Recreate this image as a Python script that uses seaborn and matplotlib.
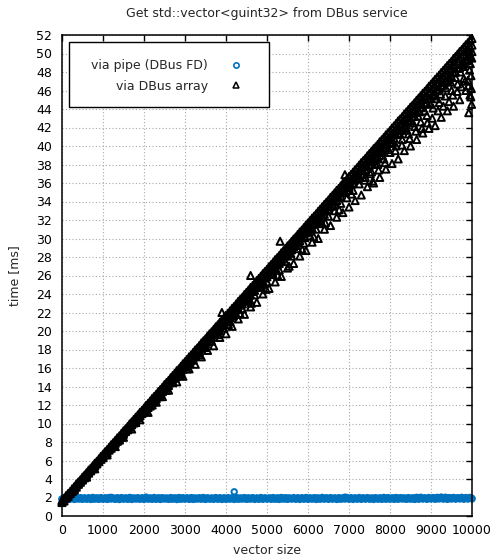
import numpy as np
import pandas as pd
import matplotlib
matplotlib.use("Agg")
import matplotlib.pyplot as plt
from matplotlib.patches import Rectangle
from matplotlib.lines import Line2D
import seaborn as sns

# ---------------- data ----------------
vector_sizes = [
    0, 50, 100, 150, 200, 250, 300, 350, 400, 450, 500, 550, 600, 650, 700, 750, 800, 850, 900, 950,
    1000, 1050, 1100, 1150, 1200, 1250, 1300, 1350, 1400, 1450, 1500, 1550, 1600, 1650, 1700, 1750, 1800, 1850, 1900, 1950,
    2000, 2050, 2100, 2150, 2200, 2250, 2300, 2350, 2400, 2450, 2500, 2550, 2600, 2650, 2700, 2750, 2800, 2850, 2900, 2950,
    3000, 3050, 3100, 3150, 3200, 3250, 3300, 3350, 3400, 3450, 3500, 3550, 3600, 3650, 3700, 3750, 3800, 3850, 3900, 3950,
    4000, 4050, 4100, 4150, 4200, 4250, 4300, 4350, 4400, 4450, 4500, 4550, 4600, 4650, 4700, 4750, 4800, 4850, 4900, 4950,
    5000, 5050, 5100, 5150, 5200, 5250, 5300, 5350, 5400, 5450, 5500, 5550, 5600, 5650, 5700, 5750, 5800, 5850, 5900, 5950,
    6000, 6050, 6100, 6150, 6200, 6250, 6300, 6350, 6400, 6450, 6500, 6550, 6600, 6650, 6700, 6750, 6800, 6850, 6900, 6950,
    7000, 7050, 7100, 7150, 7200, 7250, 7300, 7350, 7400, 7450, 7500, 7550, 7600, 7650, 7700, 7750, 7800, 7850, 7900, 7950,
    8000, 8050, 8100, 8150, 8200, 8250, 8300, 8350, 8400, 8450, 8500, 8550, 8600, 8650, 8700, 8750, 8800, 8850, 8900, 8950,
    9000, 9050, 9100, 9150, 9200, 9250, 9300, 9350, 9400, 9450, 9500, 9550, 9600, 9650, 9700, 9750, 9800, 9850, 9900, 9950,
    10000,
]

# via pipe (DBus FD), two measurement runs at every size
pipe_ms = [
    1.86, 1.90, 1.84, 1.92, 1.88, 1.95, 2.03, 1.87, 1.91, 1.85, 1.89, 1.93, 1.86, 1.90, 1.88, 1.84, 1.92, 1.87, 1.91, 1.89,
    1.85, 1.90, 1.93, 1.87, 2.02, 1.89, 1.84, 1.91, 1.88, 1.92, 1.86, 1.90, 1.85, 1.89, 1.93, 1.87, 1.91, 1.86, 1.88, 1.90,
    1.84, 2.04, 1.89, 1.86, 1.92, 1.88, 1.85, 1.90, 1.93, 1.87, 1.91, 1.86, 1.89, 1.84, 1.92, 1.88, 1.90, 1.85, 1.93, 1.87,
    1.89, 1.91, 1.86, 1.88, 1.93, 1.85, 1.90, 1.87, 1.92, 1.89, 1.84, 1.91, 1.88, 1.86, 1.90, 1.93, 1.87, 1.89, 1.85, 1.92,
    1.88, 1.86, 1.91, 1.89, 1.94, 1.87, 1.90, 1.85, 1.92, 1.88, 1.91, 1.86, 1.89, 1.93, 1.87, 1.90, 1.84, 1.92, 1.88, 1.91,
    1.86, 1.90, 1.93, 1.87, 1.89, 1.85, 1.92, 1.88, 1.91, 1.86, 1.94, 1.89, 1.87, 1.90, 1.85, 1.93, 1.88, 1.91, 1.86, 1.89,
    1.92, 1.87, 1.90, 1.88, 1.94, 1.86, 1.91, 1.89, 1.85, 1.93, 1.88, 1.90, 1.87, 1.92, 1.89, 1.86, 1.91, 1.88, 2.04, 1.90,
    1.87, 1.91, 1.89, 1.93, 1.86, 1.90, 1.88, 1.92, 1.85, 1.91, 1.89, 1.87, 1.93, 1.90, 1.88, 1.86, 1.92, 1.89, 1.91, 1.87,
    1.90, 1.88, 1.93, 1.86, 1.91, 1.89, 1.95, 1.87, 1.92, 1.88, 1.90, 1.86, 1.94, 1.89, 1.91, 2.03, 1.88, 1.92, 1.90, 1.93,
    1.89, 1.94, 1.91, 1.87, 1.95, 2.05, 1.92, 1.90, 1.96, 1.88, 1.93, 1.91, 1.89, 1.94, 1.90, 1.92, 1.88, 1.95, 1.91, 1.93,
    1.92,
]
pipe_ms_run2 = [
    1.80, 1.96, 1.78, 1.98, 1.82, 2.00, 1.79, 1.97, 1.83, 1.99, 1.80, 1.96, 1.81, 1.98, 1.79, 2.01, 1.82, 1.97, 1.80, 1.99,
    1.81, 1.97, 1.79, 2.00, 1.83, 1.96, 1.80, 1.98, 1.78, 1.99, 1.82, 1.97, 1.80, 2.01, 1.79, 1.96, 1.83, 1.98, 1.81, 1.97,
    1.79, 1.99, 1.82, 1.96, 1.80, 2.00, 1.81, 1.97, 1.79, 1.98, 1.83, 1.96, 1.80, 1.99, 1.82, 1.97, 1.78, 2.00, 1.81, 1.98,
    1.82, 1.97, 1.80, 1.99, 1.79, 1.96, 1.83, 1.98, 1.81, 2.00, 1.79, 1.97, 1.82, 1.96, 1.80, 1.99, 1.81, 1.98, 1.79, 1.97,
    1.80, 1.98, 1.82, 1.97, 1.79, 2.01, 1.81, 1.96, 1.83, 1.99, 1.80, 1.97, 1.82, 1.98, 1.79, 1.96, 1.81, 2.00, 1.80, 1.97,
    1.83, 1.96, 1.80, 1.99, 1.81, 1.97, 1.79, 2.00, 1.82, 1.98, 1.80, 1.96, 1.83, 1.99, 1.81, 1.97, 1.79, 1.98, 1.82, 2.00,
    1.80, 1.97, 1.82, 1.98, 1.79, 1.96, 1.81, 2.01, 1.83, 1.97, 1.80, 1.99, 1.82, 1.96, 1.79, 1.98, 1.81, 1.97, 1.83, 2.00,
    1.81, 1.98, 1.79, 1.96, 1.82, 2.00, 1.80, 1.97, 1.83, 1.99, 1.81, 1.96, 1.79, 1.98, 1.82, 1.97, 1.80, 2.01, 1.81, 1.99,
    1.82, 1.97, 1.80, 2.00, 1.81, 1.98, 1.83, 1.96, 1.80, 1.99, 1.82, 1.97, 1.79, 2.02, 1.81, 1.98, 1.83, 1.97, 1.80, 2.00,
    1.83, 1.99, 1.81, 2.02, 1.84, 1.98, 1.82, 2.03, 1.80, 1.99, 1.83, 2.01, 1.82, 1.98, 1.84, 2.02, 1.81, 1.99, 1.83, 2.01,
    1.84,
]
pipe_outlier_sizes = [4200]
pipe_outlier_ms = [2.62]

# via DBus array: fast run (upper edge of the band) and two slightly slower runs
array_ms = [
    1.70, 1.93, 2.21, 2.44, 2.66, 2.95, 3.18, 3.47, 3.69, 3.92, 4.21, 4.43, 4.68, 4.96, 5.17, 5.44, 5.71, 5.92, 6.18, 6.46,
    6.68, 6.95, 7.17, 7.44, 7.71, 7.93, 8.18, 8.45, 8.66, 8.94, 9.21, 9.43, 9.67, 9.96, 10.18, 10.44, 10.69, 10.93, 11.21, 11.42,
    11.67, 11.96, 12.18, 12.43, 12.72, 12.94, 13.17, 13.46, 13.68, 13.93, 14.21, 14.44, 14.66, 14.95, 15.19, 15.43, 15.72, 15.91, 16.19, 16.46,
    16.68, 16.94, 17.21, 17.42, 17.69, 17.96, 18.17, 18.43, 18.71, 18.94, 19.16, 19.45, 19.70, 19.92, 20.18, 20.46, 20.67, 20.95, 21.19, 21.43,
    21.71, 21.93, 22.18, 22.46, 22.67, 22.94, 23.21, 23.44, 23.66, 23.95, 24.18, 24.43, 24.71, 24.92, 25.17, 25.46, 25.69, 25.93, 26.21, 26.44,
    26.67, 26.96, 27.18, 27.43, 27.72, 27.93, 28.17, 28.46, 28.68, 28.94, 29.21, 29.42, 29.69, 29.95, 30.16, 30.44, 30.71, 30.92, 31.18, 31.46,
    31.68, 31.94, 32.21, 32.43, 32.67, 32.95, 33.19, 33.44, 33.70, 33.93, 34.17, 34.46, 34.68, 34.94, 35.21, 35.42, 35.69, 35.96, 36.17, 36.44,
    36.71, 36.93, 37.18, 37.45, 37.67, 37.94, 38.21, 38.43, 38.66, 38.95, 39.19, 39.44, 39.71, 39.92, 40.17, 40.46, 40.68, 40.93, 41.21, 41.43,
    41.67, 41.96, 42.18, 42.44, 42.72, 42.93, 43.17, 43.46, 43.69, 43.94, 44.21, 44.42, 44.68, 44.95, 45.19, 45.43, 45.71, 45.92, 46.18, 46.46,
    46.68, 46.94, 47.21, 47.43, 47.67, 47.95, 48.19, 48.44, 48.70, 48.93, 49.17, 49.46, 49.68, 49.94, 50.21, 50.42, 50.69, 50.95, 51.18, 51.44,
    51.62,
]
array_ms_run2 = [
    1.45, 1.62, 1.93, 2.12, 2.41, 2.63, 2.90, 3.11, 3.42, 3.64, 3.88, 4.12, 4.41, 4.63, 4.88, 5.10, 5.41, 5.62, 5.87, 6.12,
    6.33, 6.62, 6.81, 7.12, 7.32, 7.58, 7.86, 8.07, 8.34, 8.58, 8.83, 9.12, 9.31, 9.58, 9.86, 10.05, 10.33, 10.61, 10.82, 11.07,
    11.25, 11.42, 11.73, 11.88, 12.24, 12.37, 12.68, 12.95, 13.12, 13.44, 13.62, 13.93, 14.11, 14.46, 14.61, 14.95, 15.12, 15.41, 15.68, 15.87,
    16.12, 16.30, 16.63, 16.79, 17.14, 17.31, 17.62, 17.79, 18.14, 18.30, 18.61, 18.82, 19.13, 19.30, 19.59, 19.86, 20.02, 20.35, 20.56, 20.80,
    20.98, 21.27, 21.43, 21.80, 21.94, 22.28, 22.41, 22.79, 22.92, 23.27, 23.42, 23.80, 23.91, 24.27, 24.40, 24.78, 24.91, 25.26, 25.42, 25.73,
    25.86, 26.14, 26.30, 26.62, 26.81, 27.13, 27.29, 27.62, 27.78, 28.12, 28.26, 28.61, 28.77, 29.12, 29.24, 29.61, 29.76, 30.10, 30.22, 30.61,
    30.68, 31.01, 31.14, 31.52, 31.63, 32.00, 32.12, 32.51, 32.61, 32.99, 33.10, 33.50, 33.59, 33.98, 34.09, 34.48, 34.56, 34.97, 35.07, 35.46,
    35.52, 35.83, 35.98, 36.33, 36.47, 36.82, 36.95, 37.32, 37.44, 37.81, 37.92, 38.31, 38.41, 38.79, 38.90, 39.30, 39.38, 39.78, 39.87, 40.28,
    40.36, 40.72, 40.83, 41.22, 41.31, 41.69, 41.80, 42.20, 42.27, 42.67, 42.76, 43.17, 43.24, 43.64, 43.72, 44.13, 44.20, 44.61, 44.69, 45.10,
    45.14, 45.50, 45.62, 45.96, 46.09, 46.47, 46.56, 46.93, 47.04, 47.42, 47.51, 47.90, 47.98, 48.38, 48.46, 48.86, 48.93, 49.33, 49.41, 49.82,
    50.20,
]
array_ms_run3 = [
    1.58, 1.80, 2.05, 2.30, 2.55, 2.80, 3.04, 3.30, 3.54, 3.80, 4.04, 4.28, 4.55, 4.79, 5.03, 5.28, 5.55, 5.78, 6.03, 6.30,
    6.50, 6.77, 7.00, 7.26, 7.52, 7.74, 8.00, 8.26, 8.48, 8.76, 9.01, 9.25, 9.47, 9.77, 9.99, 10.24, 10.50, 10.74, 11.00, 11.22,
    11.40, 11.68, 11.92, 12.14, 12.46, 12.65, 12.91, 13.18, 13.40, 13.67, 13.92, 14.18, 14.38, 14.69, 14.90, 15.18, 15.43, 15.65, 15.91, 16.18,
    16.38, 16.60, 16.90, 17.10, 17.38, 17.62, 17.86, 18.10, 18.40, 18.60, 18.86, 19.12, 19.40, 19.59, 19.87, 20.13, 20.35, 20.64, 20.86, 21.10,
    21.34, 21.56, 21.79, 22.10, 22.28, 22.58, 22.82, 23.07, 23.28, 23.58, 23.78, 24.06, 24.32, 24.55, 24.78, 25.09, 25.30, 25.57, 25.82, 26.07,
    26.22, 26.52, 26.73, 26.99, 27.26, 27.50, 27.72, 28.02, 28.22, 28.51, 28.74, 28.99, 29.22, 29.52, 29.70, 30.01, 30.24, 30.50, 30.71, 31.03,
    31.17, 31.46, 31.70, 31.96, 32.15, 32.47, 32.68, 32.96, 33.19, 33.45, 33.65, 33.97, 34.17, 34.45, 34.70, 34.94, 35.17, 35.48, 35.66, 35.96,
    36.11, 36.35, 36.57, 36.86, 37.06, 37.36, 37.60, 37.85, 38.05, 38.37, 38.58, 38.86, 39.10, 39.34, 39.56, 39.87, 40.07, 40.35, 40.60, 40.84,
    41.00, 41.30, 41.49, 41.78, 42.03, 42.27, 42.48, 42.80, 43.00, 43.28, 43.52, 43.76, 43.99, 44.29, 44.50, 44.77, 45.02, 45.26, 45.49, 45.80,
    45.90, 46.18, 46.42, 46.67, 46.88, 47.19, 47.40, 47.68, 47.91, 48.16, 48.38, 48.70, 48.90, 49.18, 49.42, 49.66, 49.90, 50.19, 50.40, 50.68,
    50.90,
]

# scattered (slower) DBus-array measurements
array_slow_sizes = [
    300, 600, 800, 1100, 1300, 1500, 1700, 1900, 2100, 2300, 2450, 2600, 2800, 2950, 3100, 3250, 3400, 3550, 3700, 3850,
    4000, 4150, 4300, 4450, 4600, 4750, 4900, 5050, 5200, 5350, 5500, 5650, 5800, 5950, 6100, 6250, 6400, 6550, 6700, 6850,
    7000, 7150, 7300, 7450, 7600, 7750, 7900, 8050, 8200, 8350, 8500, 8650, 8800, 8950, 9100, 9250, 9400, 9550, 9700, 9850, 9950,
    1000, 1400, 1800, 2200, 2550, 2700, 2900, 3050, 3200, 3350, 3500, 3650, 3800, 3950, 4100, 4250, 4400, 4550, 4700, 4850,
    5000, 5150, 5300, 5450, 5600, 5750, 5900, 6050, 6200, 6350, 6500, 6650, 6800, 6950, 7100, 7250, 7400, 7550, 7700, 7850,
    8000, 8150, 8300, 8450, 8600, 8750, 8900, 9050, 9200, 9350, 9500, 9650, 9800, 9900,
    2020, 2380, 2760, 3120, 3480, 3840, 4180, 4520, 4880, 5220, 5580, 5920, 6280, 6620, 6980, 7320, 7680, 8020, 8380, 8720,
    9080, 9420, 9760, 9960,
    3900, 4600, 5320, 6900,
    9930, 9960, 9975, 9985, 9990, 9920,
    7520, 7580, 7640, 7720, 7810, 7880, 7960, 8070, 8130, 8240, 8290, 8410, 8480, 8560, 8630, 8690, 8780, 8840, 8910, 8980,
    9030, 9120, 9170, 9230, 9300, 9360, 9440, 9480, 9530, 9600, 9640, 9720, 9740, 9790, 9830, 9880, 9910, 9940, 9970, 9995,
    4060, 4340, 4620, 4980, 5260, 5540, 5860, 6140, 6420, 6760, 7060, 7380,
]
array_slow_ms = [
    2.8, 4.2, 5.1, 6.6, 7.5, 8.5, 9.4, 10.4, 11.2, 12.3, 12.9, 13.6, 14.5, 15.1, 15.9, 16.4, 17.2, 17.9, 18.4, 19.3,
    19.7, 20.5, 21.3, 21.8, 22.6, 23.1, 24.0, 24.6, 25.3, 25.9, 26.8, 27.3, 28.1, 28.7, 29.6, 30.0, 31.0, 31.4, 32.3, 32.8,
    33.4, 34.1, 34.7, 35.6, 36.0, 36.6, 37.5, 38.1, 38.6, 39.5, 40.0, 40.7, 41.4, 41.9, 42.2, 43.1, 43.8, 44.3, 45.0, 46.0, 45.5,
    6.3, 8.2, 10.1, 12.0, 13.6, 14.4, 15.3, 15.9, 16.9, 17.4, 18.2, 18.9, 19.6, 20.3, 21.0, 21.8, 22.4, 23.3, 23.9, 24.7,
    25.3, 26.1, 26.6, 27.5, 28.1, 28.9, 29.5, 30.3, 31.0, 31.6, 32.4, 33.0, 33.8, 34.4, 35.2, 35.9, 36.6, 37.2, 38.0, 38.6,
    39.3, 40.0, 40.7, 41.3, 42.1, 42.6, 43.3, 44.1, 44.7, 45.4, 46.0, 46.7, 47.3, 47.1,
    11.3, 12.9, 14.9, 16.5, 18.3, 20.0, 21.6, 23.2, 25.1, 26.7, 28.4, 30.1, 31.8, 33.5, 35.2, 36.9, 38.7, 40.3, 42.0, 43.7,
    45.4, 47.1, 48.8, 49.6,
    22.0, 26.0, 29.7, 36.9,
    50.3, 48.9, 47.6, 46.2, 44.5, 43.6,
    37.0, 36.2, 38.1, 37.4, 39.0, 38.2, 39.6, 40.4, 39.5, 41.3, 40.1, 41.7, 40.8, 42.5, 41.6, 43.2, 41.9, 43.8, 42.5, 44.5,
    43.0, 45.1, 43.8, 45.6, 44.3, 46.3, 44.8, 46.9, 45.5, 47.4, 45.9, 48.0, 46.4, 48.6, 47.0, 49.2, 46.5, 48.2, 45.3, 49.5,
    20.7, 21.9, 23.0, 24.5, 26.0, 27.0, 28.8, 30.2, 31.7, 33.1, 34.8, 36.3,
]

title = "Get std::vector<guint32> from DBus service"
xlabel = "vector size"
ylabel = "time [ms]"
label_pipe = "via pipe (DBus FD)"
label_array = "via DBus array"
x_ticks = [0, 1000, 2000, 3000, 4000, 5000, 6000, 7000, 8000, 9000, 10000]
y_ticks = [0, 2, 4, 6, 8, 10, 12, 14, 16, 18, 20, 22, 24, 26, 28, 30, 32, 34, 36, 38, 40,
           42, 44, 46, 48, 50, 52]

# ---------------- frames ----------------
pipe_df = pd.DataFrame({
    "size": vector_sizes + vector_sizes + pipe_outlier_sizes,
    "ms": pipe_ms + pipe_ms_run2 + pipe_outlier_ms,
})
array_df = pd.DataFrame({
    "size": vector_sizes + vector_sizes + vector_sizes + array_slow_sizes,
    "ms": array_ms + array_ms_run2 + array_ms_run3 + array_slow_ms,
})

# ---------------- style ----------------
sns.set_theme(style="white")
plt.rcParams["font.family"] = ["DejaVu Sans"]
plt.rcParams["font.size"] = 9

BLUE = "#0072bd"
FS = 9

fig = plt.figure(figsize=(4.96, 5.58), dpi=100)
ax = fig.add_axes([62 / 496, 1 - 516 / 558, 410 / 496, 481 / 558])

sns.scatterplot(data=pipe_df, x="size", y="ms", ax=ax, marker="o", s=15,
                facecolor="none", edgecolor=BLUE, linewidth=1.4,
                clip_on=False, zorder=3, legend=False)
sns.scatterplot(data=array_df, x="size", y="ms", ax=ax, marker="^", s=26,
                facecolor="none", edgecolor="black", linewidth=1.4,
                clip_on=False, zorder=4, legend=False)

ax.set_xlim(0, 10000)
ax.set_ylim(0, 52)
ax.set_xticks(x_ticks)
ax.set_yticks(y_ticks)
ax.set_xticklabels([str(t) for t in x_ticks])
ax.set_yticklabels([str(t) for t in y_ticks])

ax.grid(True, color="#a8a8a8", linestyle=(0, (1, 2)), linewidth=0.8)
ax.set_axisbelow(True)
ax.tick_params(direction="in", length=4.5, width=1.0, colors="black",
               top=True, right=True, labelsize=FS)
ax.tick_params(axis="x", pad=6)
ax.tick_params(axis="y", pad=7)
for sp in ax.spines.values():
    sp.set_color("black")
    sp.set_linewidth(1.1)
    sp.set_zorder(5)

ax.set_xlabel(xlabel, fontsize=FS, labelpad=5)
ax.set_ylabel(ylabel, fontsize=FS, labelpad=11)
ax.set_title(title, fontsize=FS, pad=13)

# legend (gnuplot style: text right-aligned, marker on the right)
box = Rectangle((0.017, 0.850), 0.488, 0.1354, transform=ax.transAxes,
                facecolor="white", edgecolor="black", linewidth=1.0, zorder=6)
ax.add_patch(box)
handles = [
    Line2D([], [], linestyle="none", marker="o", markersize=3.8,
           markerfacecolor="none", markeredgecolor=BLUE, markeredgewidth=1.2),
    Line2D([], [], linestyle="none", marker="^", markersize=4.6,
           markerfacecolor="none", markeredgecolor="black", markeredgewidth=1.1),
]
leg = ax.legend(handles, [label_pipe, label_array], loc="center right",
                bbox_to_anchor=(0.456, 0.915), frameon=False, markerfirst=False,
                handlelength=1.0, handletextpad=1.8, borderpad=0.0,
                labelspacing=0.6, fontsize=FS)
leg.set_zorder(7)

fig.savefig("out.png", dpi=100)
